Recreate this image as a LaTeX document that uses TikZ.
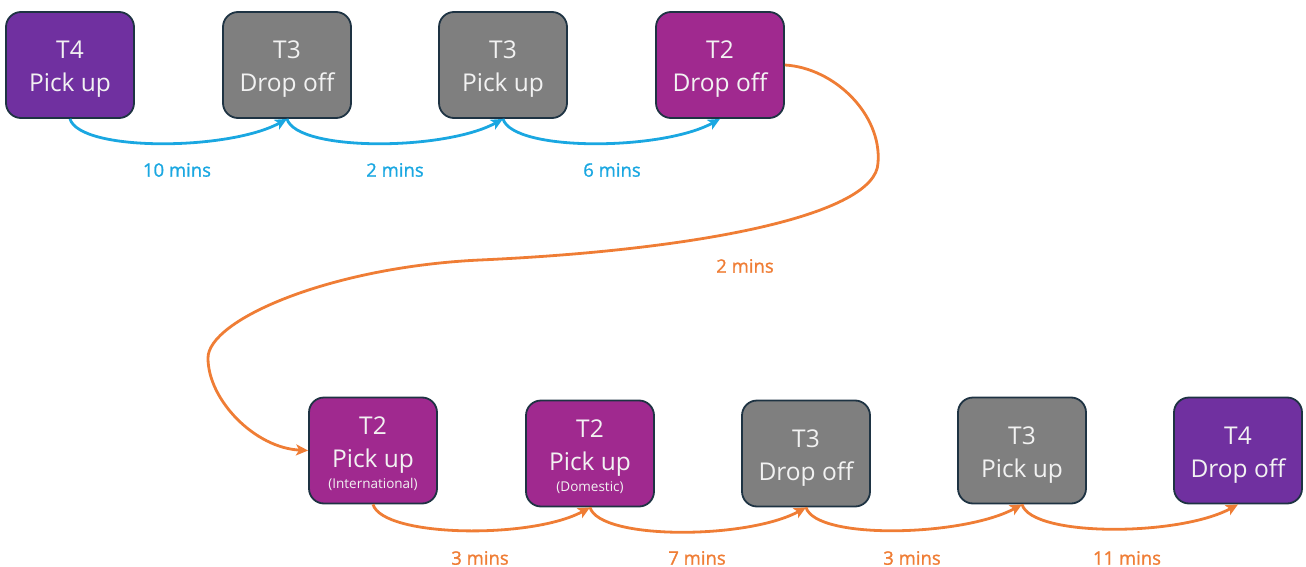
\documentclass[tikz,border=0pt]{standalone}
\usepackage{fontspec}
\setmainfont{Open Sans}
\newfontfamily\lblfont[FakeBold=1.2]{Open Sans}
\usetikzlibrary{arrows.meta}
\definecolor{tfour}{HTML}{7030A0}
\definecolor{ttwo}{HTML}{A0298F}
\definecolor{tthree}{HTML}{7F7F7F}
\definecolor{edge}{HTML}{1E3343}
\definecolor{txt}{HTML}{F2F2F2}
\definecolor{blueline}{HTML}{1AA7E1}
\definecolor{orangeline}{HTML}{EF7D35}
\tikzset{
  stop/.style={draw=edge, line width=1.8pt, rounded corners=15pt, minimum width=128pt,
    minimum height=106pt, inner sep=0pt, align=center, text=txt,
    font=\fontsize{24.5}{33}\selectfont},
  pfour/.style={stop, fill=tfour},
  ptwo/.style={stop, fill=ttwo},
  pthree/.style={stop, fill=tthree},
  conn/.style={line width=2.8pt, -{Stealth[length=12pt,width=11pt,inset=3pt]}},
  blueconn/.style={conn, draw=blueline},
  orangeconn/.style={conn, draw=orangeline},
  lbl/.style={inner sep=0pt, font=\lblfont\fontsize{18.5}{22}\selectfont},
  bluelbl/.style={lbl, text=blueline},
  orangelbl/.style={lbl, text=orangeline}
}
\newcommand{\subtxt}[1]{\\[-12pt]{\fontsize{13.5}{16}\selectfont #1}}
\newcommand{\topstrut}{\rule{0pt}{26pt}}
\begin{document}
\begin{tikzpicture}[x=1pt,y=-1pt]
\useasboundingbox (0,0) rectangle (1306,567);
% top row
\node[pfour]  (a) at (70,65)  {\topstrut T4\\Pick up};
\node[pthree] (b) at (287,65) {\topstrut T3\\Drop off};
\node[pthree] (c) at (503,65) {\topstrut T3\\Pick up};
\node[ptwo]   (d) at (720,65) {\topstrut T2\\Drop off};
% bottom row
\node[ptwo]   (e) at (373,450.5) {\rule{0pt}{24pt}T2\\Pick up\subtxt{(International)}};
\node[ptwo]   (f) at (590,453.5) {\rule{0pt}{24pt}T2\\Pick up\subtxt{(Domestic)}};
\node[pthree] (g) at (806,453.5) {\topstrut T3\\Drop off};
\node[pthree] (h) at (1022,450.5) {\topstrut T3\\Pick up};
\node[pfour]  (i) at (1238,450.5) {\topstrut T4\\Drop off};
% blue connectors
\draw[blueconn] (a.south) .. controls +(10,33) and +(-58,32) .. (b.south);
\draw[blueconn] (b.south) .. controls +(10,33) and +(-58,32) .. (c.south);
\draw[blueconn] (c.south) .. controls +(10,33) and +(-58,32) .. (d.south);
\node[bluelbl] (l1) at (177,170) {10 mins};
\node[bluelbl] (l2) at (395,170) {2 mins};
\node[bluelbl] (l3) at (612,170) {6 mins};
% long orange connector
\coordinate (p1) at (878,163);
\coordinate (p2) at (480,260);
\coordinate (p3) at (208,358);
\draw[orangeconn] (d.east) .. controls (835,68) and (882,115) .. (p1)
  .. controls (876,215) and (700,250) .. (p2)
  .. controls (330,267) and (208,320) .. (p3)
  .. controls (208,400) and (255,448) .. (e.west);
\node[orangelbl] (l4) at (745,266) {2 mins};
% bottom orange connectors
\draw[orangeconn] (e.south) .. controls +(10,33) and +(-58,32) .. (f.south);
\draw[orangeconn] (f.south) .. controls +(10,33) and +(-58,32) .. (g.south);
\draw[orangeconn] (g.south) .. controls +(10,33) and +(-58,32) .. (h.south);
\draw[orangeconn] (h.south) .. controls +(10,33) and +(-58,32) .. (i.south);
\node[orangelbl] (l5) at (480,558) {3 mins};
\node[orangelbl] (l6) at (697,558) {7 mins};
\node[orangelbl] (l7) at (912,558) {3 mins};
\node[orangelbl] (l8) at (1127,558) {11 mins};
\end{tikzpicture}
\end{document}
